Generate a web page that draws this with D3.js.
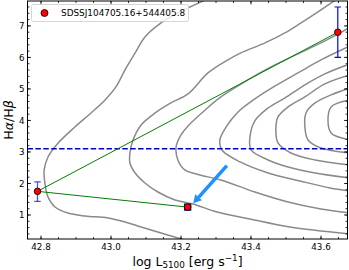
<!DOCTYPE html>
<html><head><meta charset="utf-8">
<script src="https://cdn.jsdelivr.net/npm/d3@7"></script>
<style>body{margin:0;background:#fff}svg{display:block}text{font-family:"DejaVu Sans",sans-serif}</style>
</head><body><svg id="c" width="349" height="270"></svg>
<script>
// ---- data ----
const xTicks = [42.8, 43.0, 43.2, 43.4, 43.6];
const yTicks = [1, 2, 3, 4, 5, 6, 7];
const legendLabel = "SDSSJ104705.16+544405.8";
const points = [ // logL, ratio, errLow, errHigh
  [42.79, 1.75, 0.32, 0.30],
  [43.219, 1.25, 0.06, 0.06],
  [43.648, 6.80, 0.80, 0.80]
];
const greenLinks = [[0, 2], [0, 1]];
const refLine = 3.1;
const arrowData = [[43.331, 2.565], [43.235, 1.371]];
const contour1 = [[43.289,7.92],[43.220,7.571],[43.191,7.413],[43.143,7.095],[43.097,6.651],[43.069,6.143],[43.040,5.603],[43.014,5.063],[42.983,4.651],[42.943,4.238],[42.897,3.794],[42.849,3.286],[42.820,2.841],[42.809,2.429],[42.811,2.016],[42.820,1.571],[42.840,1.254],[42.877,1.063],[42.926,0.968],[42.991,0.905],[43.040,0.778],[43.086,0.619],[43.143,0.429],[43.211,0.206]];
const contour2 = [[43.654,7.921],[43.600,7.508],[43.543,7.095],[43.497,6.778],[43.440,6.460],[43.371,6.143],[43.334,5.921],[43.277,5.508],[43.220,4.841],[43.171,4.556],[43.126,4.238],[43.086,3.857],[43.063,3.381],[43.054,2.968],[43.054,2.651],[43.069,2.333],[43.097,2.016],[43.134,1.730],[43.183,1.476],[43.234,1.349],[43.303,1.095],[43.397,0.873],[43.511,0.619],[43.683,0.397]];
const contour3 = [[43.689,7.0],[43.649,6.746],[43.600,6.460],[43.534,6.111],[43.457,5.698],[43.391,5.286],[43.314,4.746],[43.269,4.333],[43.220,3.825],[43.200,3.540],[43.186,3.159],[43.191,2.746],[43.211,2.429],[43.254,2.270],[43.314,2.111],[43.411,1.730],[43.506,1.413],[43.600,1.190],[43.683,1.063]];
const contour4 = [[43.683,6.365],[43.600,5.921],[43.534,5.508],[43.469,5.095],[43.411,4.683],[43.363,4.270],[43.329,3.794],[43.311,3.381],[43.317,3.063],[43.369,2.683],[43.449,2.333],[43.540,2.079],[43.626,1.857],[43.683,1.762]];
const contour5 = [[43.683,5.794],[43.611,5.476],[43.554,5.127],[43.497,4.714],[43.449,4.397],[43.411,3.984],[43.397,3.476],[43.400,3.063],[43.449,2.746],[43.506,2.524],[43.583,2.333],[43.683,2.175]];
const contour6 = [[43.683,5.444],[43.611,5.159],[43.554,4.746],[43.506,4.429],[43.477,4.111],[43.471,3.698],[43.477,3.286],[43.514,2.968],[43.583,2.746],[43.683,2.587]];
const contour7 = [[43.683,5.032],[43.629,4.810],[43.583,4.556],[43.557,4.238],[43.554,3.794],[43.563,3.381],[43.600,3.127],[43.683,2.968]];
const contour8 = [[43.683,4.651],[43.629,4.429],[43.620,4.016],[43.629,3.603],[43.683,3.381]];
const contours = [contour1, contour2, contour3, contour4, contour5, contour6, contour7, contour8];

// ---- layout ----
const L = 27.5, R = 347.5, T = 1, B = 239;
const x = d3.scaleLinear().domain([42.7614, 43.6757]).range([L, R]);
const y = d3.scaleLinear().domain([0.238, 7.79]).range([B, T]);
const svg = d3.select("#c");

svg.append("defs").append("clipPath").attr("id", "clip")
  .append("rect").attr("x", L).attr("y", T).attr("width", R - L).attr("height", B - T);
const g = svg.append("g").attr("clip-path", "url(#clip)");

const line = d3.line().x(d => x(d[0])).y(d => y(d[1])).curve(d3.curveCatmullRom.alpha(0.5));
g.selectAll("path.ct").data(contours).join("path").attr("class", "ct")
  .attr("d", line).attr("fill", "none").attr("stroke", "#8a8a8a").attr("stroke-width", 1.5);

g.append("line").attr("x1", L).attr("x2", R).attr("y1", y(refLine)).attr("y2", y(refLine))
  .attr("stroke", "#0000cc").attr("stroke-width", 1.4).attr("stroke-dasharray", "5.5,2.4");

g.selectAll("line.gl").data(greenLinks).join("line").attr("class", "gl")
  .attr("x1", d => x(points[d[0]][0])).attr("y1", d => y(points[d[0]][1]))
  .attr("x2", d => x(points[d[1]][0])).attr("y2", d => y(points[d[1]][1]))
  .attr("stroke", "#008000").attr("stroke-width", 1);

// arrow
{
  const [s, e] = arrowData;
  const x1 = x(s[0]), y1 = y(s[1]), x2 = x(e[0]), y2 = y(e[1]);
  const ang = Math.atan2(y2 - y1, x2 - x1);
  const hl = 8, hw = 4.5;
  const bx = x2 - hl * Math.cos(ang), by = y2 - hl * Math.sin(ang);
  g.append("line").attr("x1", x1).attr("y1", y1).attr("x2", bx).attr("y2", by)
    .attr("stroke", "#1e90ff").attr("stroke-width", 3.5);
  const px = -Math.sin(ang), py = Math.cos(ang);
  g.append("path").attr("d", `M${x2},${y2}L${bx + px * hw},${by + py * hw}L${bx - px * hw},${by - py * hw}Z`)
    .attr("fill", "#1e90ff");
}

// error bars and points
const eb = g.selectAll("g.eb").data(points).join("g").attr("class", "eb");
const ebCol = (d, i) => i === 0 ? "#4a4aff" : (i === 1 ? "#1a1a9a" : "#0000ff");
eb.append("line").attr("x1", d => x(d[0])).attr("x2", d => x(d[0]))
  .attr("y1", d => y(d[1] - d[2])).attr("y2", d => y(d[1] + d[3]))
  .attr("stroke", ebCol).attr("stroke-width", 1.2);
eb.append("line").attr("x1", d => x(d[0]) - 3.2).attr("x2", d => x(d[0]) + 3.2)
  .attr("y1", d => y(d[1] - d[2])).attr("y2", d => y(d[1] - d[2]))
  .attr("stroke", ebCol).attr("stroke-width", 1.2);
eb.append("line").attr("x1", d => x(d[0]) - 3.2).attr("x2", d => x(d[0]) + 3.2)
  .attr("y1", d => y(d[1] + d[3])).attr("y2", d => y(d[1] + d[3]))
  .attr("stroke", ebCol).attr("stroke-width", 1.2);
g.selectAll("rect.sq").data([points[1]]).join("rect").attr("class", "sq")
  .attr("x", d => x(d[0]) - 3.7).attr("y", d => y(d[1]) - 3.7).attr("width", 7.4).attr("height", 7.4)
  .attr("fill", "#1a1a9a");
g.selectAll("circle.pt").data(points).join("circle").attr("class", "pt")
  .attr("cx", d => x(d[0])).attr("cy", d => y(d[1])).attr("r", 3.3)
  .attr("fill", "#ff0000").attr("stroke", "#000").attr("stroke-width", 0.8);

// axes frame and ticks
const ax = svg.append("g");
ax.append("rect").attr("x", L).attr("y", T).attr("width", R - L).attr("height", B - T)
  .attr("fill", "none").attr("stroke", "#000").attr("stroke-width", 1);
const xMinor = d3.range(42.75, 43.70, 0.05).filter(v => v >= 42.7614 && v <= 43.6757);
const yMinor = d3.range(0.4, 7.8, 0.2).filter(v => v >= 0.238 && v <= 7.79);
function ticksX(vals, len) {
  vals.forEach(v => {
    ax.append("line").attr("x1", x(v)).attr("x2", x(v)).attr("y1", B).attr("y2", B - len).attr("stroke", "#000").attr("stroke-width", 0.8);
    ax.append("line").attr("x1", x(v)).attr("x2", x(v)).attr("y1", T).attr("y2", T + len).attr("stroke", "#000").attr("stroke-width", 0.8);
  });
}
function ticksY(vals, len) {
  vals.forEach(v => {
    ax.append("line").attr("y1", y(v)).attr("y2", y(v)).attr("x1", L).attr("x2", L + len).attr("stroke", "#000").attr("stroke-width", 0.8);
    ax.append("line").attr("y1", y(v)).attr("y2", y(v)).attr("x1", R).attr("x2", R - len).attr("stroke", "#000").attr("stroke-width", 0.8);
  });
}
ticksX(xMinor, 2); ticksX(xTicks, 3.5);
ticksY(yMinor, 2); ticksY(yTicks, 3.5);

ax.selectAll("text.xt").data(xTicks).join("text").attr("class", "xt")
  .attr("x", d => x(d)).attr("y", 249.5).attr("text-anchor", "middle").attr("font-size", 8.7)
  .text(d => d.toFixed(1));
ax.selectAll("text.yt").data(yTicks).join("text").attr("class", "yt")
  .attr("x", 24.5).attr("y", d => y(d) + 3.2).attr("text-anchor", "end").attr("font-size", 8.7)
  .text(d => d);

// axis labels
const xl = svg.append("text").attr("x", (L + R) / 2).attr("y", 265.5).attr("text-anchor", "middle").attr("font-size", 12.5);
xl.append("tspan").text("log L");
xl.append("tspan").attr("font-size", 8.8).attr("dy", 2.5).text("5100");
xl.append("tspan").attr("dy", -2.5).text(" [erg s");
xl.append("tspan").attr("font-size", 8.8).attr("dy", -5).text("\u22121");
xl.append("tspan").attr("dy", 5).text("]");

const yl = svg.append("text").attr("transform", `translate(12.5,${(T + B) / 2}) rotate(-90)`)
  .attr("text-anchor", "middle").attr("font-size", 12.5);
yl.append("tspan").text("H");
yl.append("tspan").attr("font-style", "italic").text("\u03b1");
yl.append("tspan").text("/H");
yl.append("tspan").attr("font-style", "italic").text("\u03b2");

// legend
const lg = svg.append("g");
lg.append("rect").attr("x", 31.5).attr("y", 4.5).attr("width", 157).attr("height", 17).attr("rx", 2)
  .attr("fill", "#fff").attr("fill-opacity", 0.8).attr("stroke", "#cccccc").attr("stroke-width", 0.8);
lg.append("circle").attr("cx", 44.5).attr("cy", 13).attr("r", 3.5).attr("fill", "#ff0000").attr("stroke", "#000").attr("stroke-width", 0.8);
lg.append("text").attr("x", 61).attr("y", 16.2).attr("font-size", 8.9).text(legendLabel);
</script></body></html>
